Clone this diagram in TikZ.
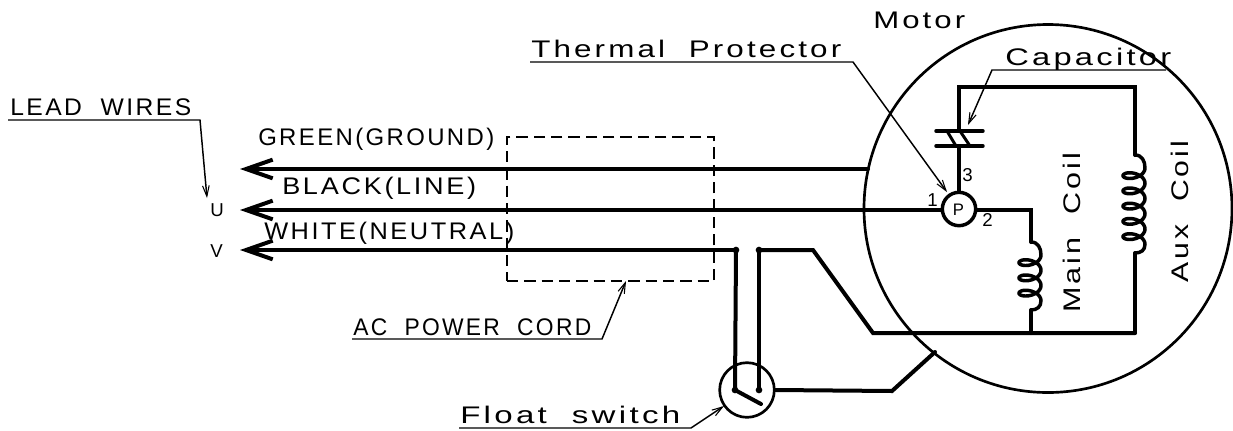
\documentclass[tikz,border=0pt]{standalone}
\usepackage{graphicx}
\usepackage{fontspec}
\setmainfont{Liberation Sans}
\usetikzlibrary{arrows.meta}
\newfontfamily\cadfont[LetterSpace=10,WordSpace=2]{Liberation Sans}
\newcommand{\fitw}[2]{\resizebox{\dimexpr#1pt*3/4\relax}{\height}{#2}}
\newcommand{\coilat}[4]{% cx, ytop, loops, ybottom of lead
  \draw[wire,line width=2.6pt] (#1,#2) .. controls (#1+7,#2) and (#1+10,#2+6) .. (#1+10,#2+13)
    plot[smooth,samples=#3*40+1,domain=0:#3*360,variable=\t]
      ({#1-1+11*cos(\t)},{#2+13+\t/360*15.25+6.2*sin(\t)})
    .. controls (#1+10,#2+19+#3*15.25) and (#1+6,#4) .. (#1,#4);
}
\tikzset{
  wire/.style={line width=3pt,line cap=round,line join=miter,black},
  thinwire/.style={line width=2.6pt,line cap=round,black},
  leadarrow/.style={wire,{Straight Barb[length=20pt,width=14pt,line width=3pt]}-},
  leader/.style={line width=1.1pt,black,-{Straight Barb[length=8pt,width=5pt,line width=.8pt]}},
  outline/.style={draw,circle,inner sep=0pt,line width=2pt,black},
  cad/.style={inner sep=0pt,anchor=base west,black},
  big/.style={cad,font=\cadfont\fontsize{18pt}{19pt}\selectfont},
  small/.style={cad,font=\fontsize{14pt}{15pt}\selectfont},
  dot/.style={circle,fill=black,inner sep=0pt,minimum size=5pt}
}
\begin{document}
\begin{tikzpicture}[x=0.75pt,y=-0.75pt]
\useasboundingbox (0,0) rectangle (1233,430);
% motor, switch, protector
\node[outline,minimum size=276pt] (motor) at (1048,208.5) {};
\node[outline,minimum size=41pt] (switch) at (747,390) {};
\node[outline,line width=2.6pt,minimum size=25pt] (prot) at (959,209) {};
\node[inner sep=0pt,font=\fontsize{12.5pt}{13pt}\selectfont] (ptxt) at (958.5,209.5) {P};
% dashed cord box
\node[draw,dashed,dash pattern=on 8.5pt off 4.5pt,line width=1.1pt,inner sep=0pt,minimum width=155.25pt,minimum height=108pt] (cord) at (610.5,209) {};
% main wires
\coordinate (gl) at (240,169); \coordinate (gr) at (868,169);
\coordinate (bl) at (240,210);
\coordinate (wl) at (240,250); \node[dot] (t1) at (736,250) {}; \node[dot] (t2) at (759,250) {};
\node[dot] (c1) at (735,390) {}; \node[dot] (c2) at (759,390) {};
\draw[leadarrow] (gl) -- (gr);
\draw[leadarrow] (bl) -- (prot.west |- bl);
\draw[leadarrow] (wl) -- (t1.center);
\draw[wire] (t1.center) -- (c1.center);
\draw[wire] (t2.center) -- (c2.center);
\coordinate (bladeend) at (761,404);
\draw[wire] (c1.center) -- (bladeend);
\coordinate (d1) at (813,250); \coordinate (d2) at (873,333); \coordinate (bq) at (1135,333);
\draw[wire] (t2.center) -- (d1) -- (d2) -- (bq);
\coordinate (e1) at (892,391); \coordinate (e2) at (935,352);
\draw[wire] (switch.east) -- (e1) -- (e2);
% capacitor branch
\coordinate (c3) at (959,131); \coordinate (c4) at (959,147);
\coordinate (tl) at (959,87); \coordinate (tr) at (1135,87); \coordinate (aux) at (1135,155);
\draw[wire] (prot.north) -- (c4);
\draw[wire] (c3) -- (tl) -- (tr) -- (aux);
\coordinate (p1a) at (936,131); \coordinate (p1b) at (983,131);
\coordinate (p2a) at (936,146); \coordinate (p2b) at (983,146);
\draw[thinwire] (p1a) -- (p1b);
\draw[thinwire] (p2a) -- (p2b);
\coordinate (s1a) at (947,131); \coordinate (s1b) at (956,146);
\coordinate (s2a) at (960,131); \coordinate (s2b) at (970,146);
\draw[thinwire,line width=2.2pt] (s1a) -- (s1b);
\draw[thinwire,line width=2.2pt] (s2a) -- (s2b);
% main coil wiring
\coordinate (m1) at (1031,210); \coordinate (m2) at (1031,242);
\coordinate (m3) at (1031,310); \coordinate (m4) at (1031,333);
\draw[wire] (prot.east |- m1) -- (m1) -- (m2);
\draw[wire] (m3) -- (m4);
\coilat{1031}{242}{3}{310}
% aux coil
\coordinate (a3) at (1135,253);
\draw[wire] (a3) -- (bq);
\coilat{1135}{155}{5}{253}
% leaders
\coordinate (l1a) at (530,62); \coordinate (l1b) at (853,62); \coordinate (l1c) at (947,192);
\draw[leader] (l1a) -- (l1b) -- (l1c);
\coordinate (l2a) at (1166,70); \coordinate (l2b) at (992,70); \coordinate (l2c) at (968,125);
\draw[leader] (l2a) -- (l2b) -- (l2c);
\coordinate (l3a) at (8,120); \coordinate (l3b) at (200,120); \coordinate (l3c) at (207,198);
\draw[leader] (l3a) -- (l3b) -- (l3c);
\coordinate (l4a) at (352,339); \coordinate (l4b) at (602,339); \coordinate (l4c) at (626,281);
\draw[leader] (l4a) -- (l4b) -- (l4c);
\coordinate (l5a) at (459,428); \coordinate (l5b) at (691,428); \coordinate (l5c) at (724,406);
\draw[leader] (l5a) -- (l5b) -- (l5c);
% labels
\node[big] (tMotor) at (873,28) {\fitw{92}{Motor}};
\node[big] (tTherm) at (531,57) {\fitw{310}{Thermal Protector}};
\node[big] (tCap) at (1005,65) {\fitw{166}{Capacitor}};
\node[big] (tLead) at (10,115) {\fitw{181}{LEAD WIRES}};
\node[big] (tGreen) at (258,145) {\fitw{236}{GREEN(GROUND)}};
\node[big] (tBlack) at (282,194) {\fitw{194}{BLACK(LINE)}};
\node[big] (tWhite) at (264,239) {\fitw{250}{WHITE(NEUTRAL)}};
\node[big] (tCord) at (353,335) {\fitw{238}{AC POWER CORD}};
\node[big] (tFloat) at (460,423) {\fitw{220}{Float switch}};
\node[big,rotate=90] (tMain) at (1080,313) {\fitw{160}{Main Coil}};
\node[big,rotate=90] (tAux) at (1188,283) {\fitw{142}{Aux Coil}};
\node[small] (tU) at (210,216) {U};
\node[small] (tV) at (210,257) {V};
\node[small] (n1) at (927,206) {1};
\node[small] (n2) at (982,226) {2};
\node[small] (n3) at (962,181) {3};
\end{tikzpicture}
\end{document}
